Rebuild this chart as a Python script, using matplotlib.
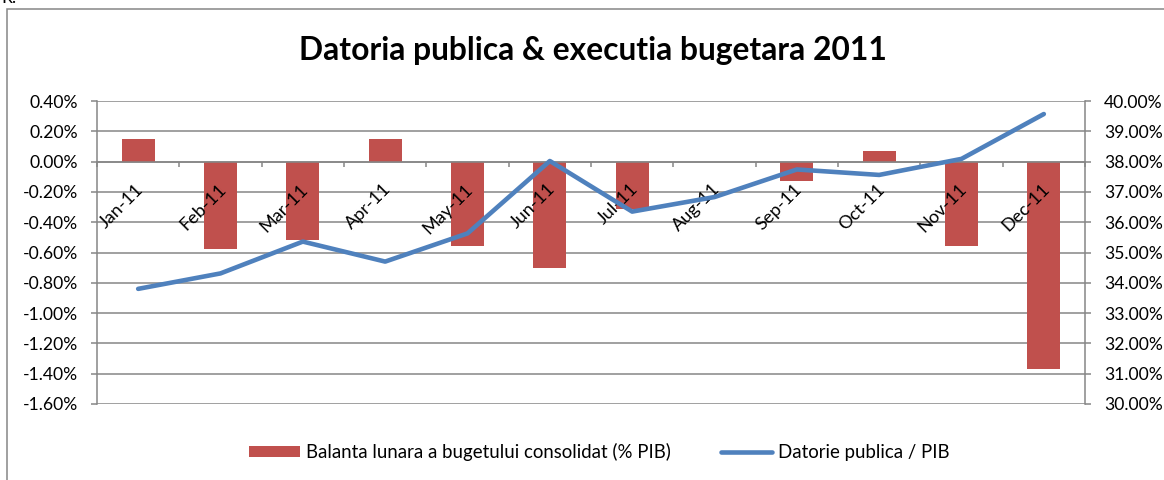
import matplotlib
matplotlib.use('Agg')
import matplotlib.pyplot as plt
from matplotlib.patches import Rectangle, Patch
from matplotlib.lines import Line2D
from matplotlib.ticker import FuncFormatter, FixedLocator
import numpy as np

# ---------------- data ----------------
months = ['Jan-11', 'Feb-11', 'Mar-11', 'Apr-11', 'May-11', 'Jun-11',
          'Jul-11', 'Aug-11', 'Sep-11', 'Oct-11', 'Nov-11', 'Dec-11']
balance = [0.15, -0.58, -0.52, 0.15, -0.56, -0.70, -0.31, 0.00, -0.13, 0.07, -0.56, -1.37]   # % PIB
debt = [33.80, 34.31, 35.36, 34.70, 35.63, 38.02, 36.35, 36.83, 37.74, 37.56, 38.09, 39.57]  # % PIB
left_ticks = [-1.6, -1.4, -1.2, -1.0, -0.8, -0.6, -0.4, -0.2, 0.0, 0.2, 0.4]
right_ticks = [30, 31, 32, 33, 34, 35, 36, 37, 38, 39, 40]
title = 'Datoria publica & executia bugetara 2011'
label_bar = 'Balanta lunara a bugetului consolidat (% PIB)'
label_line = 'Datorie publica / PIB'

# ---------------- style ----------------
plt.rcParams['font.family'] = ['Lato', 'DejaVu Sans']
GRAY = '#868686'
RED = '#C0504D'
BLUE = '#4F81BD'
FS = 12.6

W, H = 1164, 480
fig = plt.figure(figsize=(W / 100, H / 100), dpi=100)
fig.patch.set_facecolor('white')

ax = fig.add_axes([97 / W, 1 - 404 / H, (1085 - 97) / W, (404 - 101) / H])
x = np.arange(len(months))

ax.bar(x, balance, width=0.4, color=RED, zorder=2)
ax.set_xlim(-0.5, len(months) - 0.5)
ax.set_ylim(left_ticks[0], left_ticks[-1])
ax.yaxis.set_major_locator(FixedLocator(left_ticks))
ax.yaxis.set_major_formatter(FuncFormatter(lambda v, p: f'{v:.2f}%'.replace('-0.00', '0.00')))
ax.set_axisbelow(True)
ax.grid(axis='y', color=GRAY, lw=1.1)
ax.grid(axis='x', visible=False)

for s in ['top', 'right']:
    ax.spines[s].set_visible(False)
ax.spines['left'].set_color(GRAY)
ax.spines['left'].set_linewidth(1.1)
ax.spines['bottom'].set_position(('data', 0))
ax.spines['bottom'].set_color(GRAY)
ax.spines['bottom'].set_linewidth(1.1)

ax.set_xticks(np.arange(-0.5, len(months), 1.0))
ax.set_xticklabels([])
ax.tick_params(axis='x', direction='out', length=3.6, width=1.1, color=GRAY)
ax.tick_params(axis='y', direction='out', length=4, width=1.1, color=GRAY,
               pad=9.5, labelsize=FS, labelcolor='black')

for i, m in enumerate(months):
    ax.annotate(m, xy=(i, 0), xycoords='data', xytext=(3, -25), textcoords='offset pixels',
                rotation=45, rotation_mode='anchor', ha='right', va='center',
                fontsize=FS + 0.5, color='black', zorder=5)

ax2 = ax.twinx()
ax2.plot(x, debt, color=BLUE, lw=3.3, solid_capstyle='round', solid_joinstyle='round', zorder=6)
ax2.set_ylim(right_ticks[0], right_ticks[-1])
ax2.yaxis.set_major_locator(FixedLocator(right_ticks))
ax2.yaxis.set_major_formatter(FuncFormatter(lambda v, p: f'{v:.2f}%'))
for s in ['top', 'left', 'bottom']:
    ax2.spines[s].set_visible(False)
ax2.spines['right'].set_color(GRAY)
ax2.spines['right'].set_linewidth(1.1)
ax2.tick_params(axis='y', direction='out', length=4, width=1.1, color=GRAY,
                pad=9.5, labelsize=FS, labelcolor='black')

# title
fig.text(593 / W, 1 - 60 / H, title, ha='center', va='baseline',
         fontsize=22.9, fontweight='bold', color='black')

# legend
handles = [Patch(facecolor=RED, edgecolor='none'),
           Line2D([], [], color=BLUE, lw=3.3, solid_capstyle='round')]
fig.legend(handles, [label_bar, label_line], loc='center',
           bbox_to_anchor=(599 / W, 1 - 452 / H), ncol=2, frameon=False,
           handlelength=2.75, handleheight=0.55, handletextpad=0.3,
           columnspacing=2.7, fontsize=13.4)

# outer chart border
fig.add_artist(Rectangle((7 / W, -0.5), 2.0, 1 - 9 / H + 0.5, transform=fig.transFigure,
                         fill=False, edgecolor=GRAY, lw=1.1, clip_on=False))
fig.text(1 / W, 1 - 3 / H, 'R.', ha='left', va='baseline', fontsize=FS, color='black')

fig.savefig('out.png', dpi=100)
